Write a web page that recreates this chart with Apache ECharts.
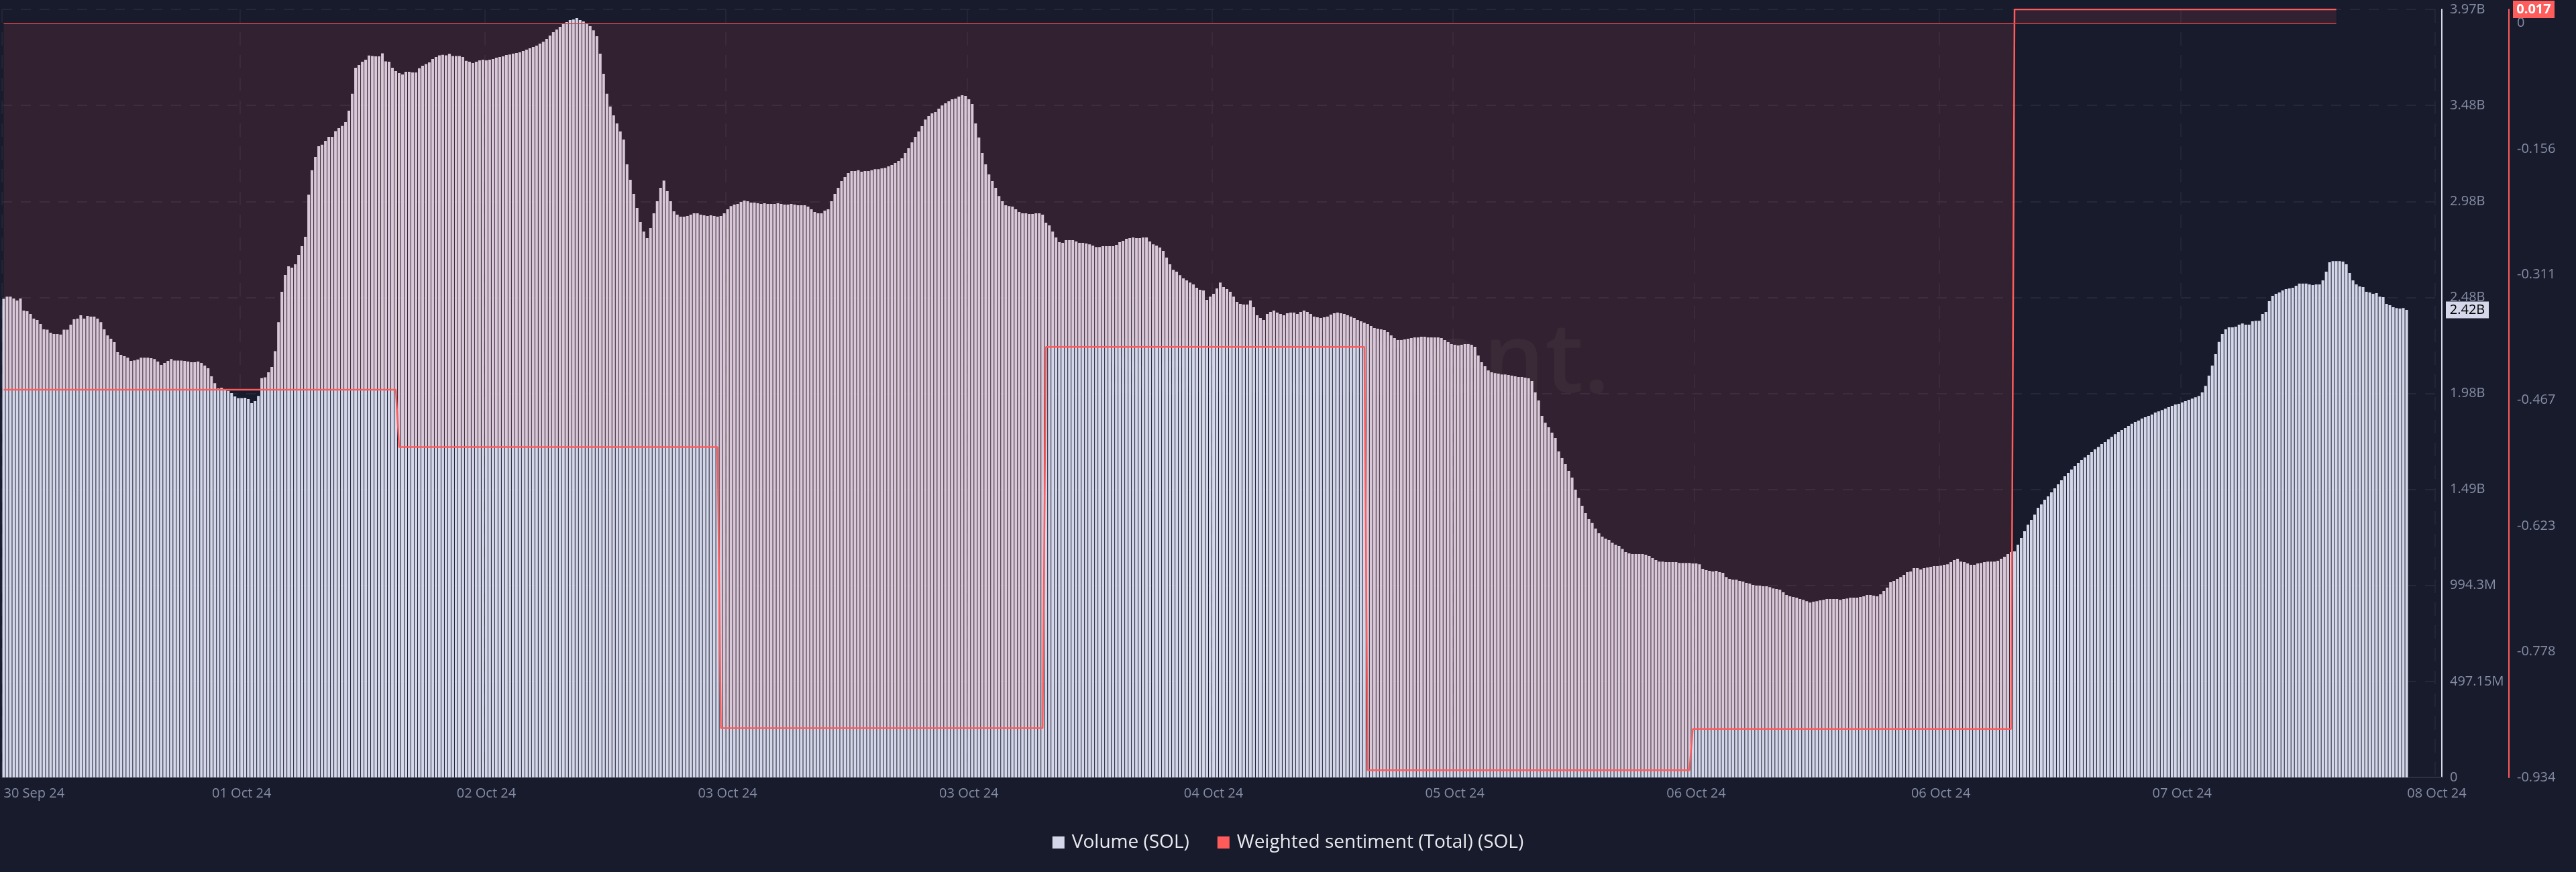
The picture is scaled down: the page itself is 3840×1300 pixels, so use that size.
<!DOCTYPE html>
<html><head><meta charset="utf-8">
<script src="https://cdn.jsdelivr.net/npm/echarts@6/dist/echarts.min.js"></script>
<style>html,body{margin:0;padding:0;background:#181b2b;}#c{width:3840px;height:1300px;}</style>
</head><body><div id="c"></div>
<script>
// ---- x categories: 15-minute buckets ----
const startTime = Date.UTC(2024, 8, 30, 18, 30);
const stepMinutes = 15;
const categoryCount = 728;
const categories = [];
for (let i = 0; i < categoryCount; i++) {
  categories.push(new Date(startTime + i * stepMinutes * 60000).toISOString().slice(0, 16));
}

// ---- Volume (SOL), millions ----
const volumeM = [
2478,2490,2490,2480,2470,2480,2418,2414,2400,2376,
2369,2348,2320,2319,2303,2296,2296,2293,2319,2319,
2345,2372,2376,2393,2376,2390,2386,2386,2376,2358,
2320,2289,2272,2254,2202,2188,2181,2174,2157,2160,
2164,2174,2174,2174,2171,2167,2154,2136,2147,2157,
2167,2159,2159,2159,2157,2154,2150,2150,2154,2147,
2133,2119,2077,2042,2015,2018,2005,2002,1990,1973,
1964,1964,1966,1959,1938,1949,1976,2068,2072,2098,
2126,2207,2358,2515,2602,2647,2640,2657,2706,2751,
2800,3018,3144,3213,3269,3276,3296,3317,3317,3347,
3362,3374,3394,3453,3540,3675,3689,3706,3717,3738,
3736,3734,3734,3750,3708,3706,3675,3658,3647,3640,
3654,3654,3651,3651,3672,3685,3694,3703,3720,3731,
3739,3742,3739,3747,3736,3736,3736,3731,3711,3706,
3699,3706,3713,3717,3713,3717,3720,3727,3731,3734,
3741,3744,3748,3751,3755,3762,3769,3776,3783,3790,
3800,3810,3824,3842,3859,3873,3887,3901,3911,3922,
3925,3932,3922,3915,3904,3890,3869,3838,3748,3644,
3540,3474,3428,3387,3345,3303,3175,3095,3022,2949,
2876,2827,2793,2845,2921,2984,3053,3091,3036,2984,
2932,2914,2904,2904,2907,2914,2921,2921,2914,2911,
2907,2911,2907,2904,2907,2921,2942,2959,2966,2970,
2980,2987,2984,2977,2977,2973,2970,2973,2970,2970,
2970,2973,2970,2966,2966,2970,2966,2963,2963,2963,
2956,2942,2928,2921,2921,2935,2942,2984,3022,3053,
3088,3109,3130,3140,3140,3144,3137,3140,3140,3144,
3150,3150,3154,3157,3164,3171,3182,3192,3206,3234,
3258,3289,3317,3345,3373,3407,3425,3439,3446,3463,
3480,3491,3501,3512,3515,3526,3533,3529,3512,3487,
3387,3314,3234,3175,3123,3088,3053,3011,2984,2963,
2959,2956,2942,2928,2921,2921,2918,2918,2921,2921,
2914,2873,2859,2827,2796,2772,2768,2782,2782,2782,
2775,2768,2768,2765,2761,2754,2747,2747,2751,2751,
2751,2751,2758,2772,2779,2789,2793,2796,2793,2793,
2796,2796,2775,2761,2754,2744,2727,2692,2657,2629,
2619,2601,2584,2574,2563,2553,2536,2525,2522,2473,
2490,2504,2532,2563,2539,2529,2515,2490,2463,2452,
2449,2449,2470,2435,2393,2379,2369,2400,2411,2418,
2407,2400,2393,2404,2407,2407,2400,2411,2418,2411,
2400,2386,2383,2379,2383,2386,2397,2404,2407,2404,
2400,2393,2386,2379,2369,2362,2355,2348,2338,2327,
2324,2320,2317,2306,2289,2275,2265,2265,2268,2272,
2275,2279,2279,2282,2282,2279,2279,2279,2279,2275,
2265,2254,2244,2240,2237,2240,2244,2244,2240,2230,
2185,2150,2129,2108,2098,2094,2091,2087,2087,2084,
2081,2077,2074,2074,2070,2067,2053,1994,1952,1872,
1837,1813,1785,1758,1688,1653,1622,1587,1553,1490,
1448,1407,1369,1337,1317,1289,1264,1247,1237,1230,
1216,1205,1198,1184,1167,1160,1157,1157,1157,1157,
1153,1146,1136,1125,1118,1118,1115,1115,1115,1115,
1111,1111,1111,1111,1108,1108,1104,1080,1073,1070,
1066,1070,1063,1059,1038,1028,1024,1024,1018,1014,
1007,1004,997,993,993,990,990,986,979,976,
972,959,945,938,934,931,924,920,913,906,
910,913,917,920,924,924,924,924,920,924,
927,931,931,931,934,938,945,945,941,938,
948,966,983,1011,1018,1028,1038,1049,1063,1066,
1084,1084,1077,1084,1087,1091,1094,1094,1097,1101,
1104,1115,1125,1132,1118,1115,1108,1101,1101,1108,
1111,1115,1118,1118,1118,1122,1132,1143,1157,1167,
1171,1205,1240,1275,1309,1334,1361,1396,1414,1438,
1455,1476,1497,1518,1539,1560,1577,1594,1612,1629,
1643,1657,1671,1685,1699,1712,1726,1737,1751,1764,
1778,1789,1799,1810,1820,1831,1841,1848,1858,1865,
1872,1879,1890,1896,1903,1910,1917,1924,1931,1935,
1942,1949,1956,1962,1969,1976,1994,2028,2081,2133,
2192,2255,2296,2320,2331,2331,2334,2345,2351,2345,
2345,2362,2365,2365,2400,2411,2466,2494,2504,2511,
2522,2529,2532,2536,2546,2557,2557,2557,2553,2550,
2553,2553,2574,2619,2668,2674,2674,2674,2671,2657,
2612,2574,2553,2543,2539,2515,2511,2504,2508,2490,
2487,2452,2445,2435,2431,2428,2431,2421
];

// ---- Weighted sentiment (Total) (SOL): daily values and how many 15-min buckets each covers ----
const sentimentValues = [-0.454, -0.525, -0.873, -0.401, -0.925, -0.874, 0.017];
const sentimentSegmentLengths = [118, 96, 97, 96, 97, 96, 97];

// ---- tick labels ----
const xTickIndices = [0, 71, 144, 216, 288, 361, 433, 505, 578, 650, 726];
const xTickLabels = ['30 Sep 24','01 Oct 24','02 Oct 24','03 Oct 24','03 Oct 24','04 Oct 24','05 Oct 24','06 Oct 24','06 Oct 24','07 Oct 24','08 Oct 24'];
const volumeTickLabels = ['0','497.15M','994.3M','1.49B','1.98B','2.48B','2.98B','3.48B','3.97B'];
const volumeInterval = 497.15e6;
const sentimentTickLabels = ['-0.934','-0.778','-0.623','-0.467','-0.311','-0.156','0'];
const sentimentMin = -0.934, sentimentMax = 0.017, sentimentInterval = 0.15567;

// ---- build series data ----
const volumeData = volumeM.map(v => v * 1e6);
const sentimentData = [];
sentimentValues.forEach((v, k) => { for (let j = 0; j < sentimentSegmentLengths[k]; j++) sentimentData.push(v); });

const FONT = '"Open Sans", "Noto Sans", sans-serif';
const LABEL_COLOR = '#858da5';
const BAR_COLOR = '#d4d7e9';
const RED = '#ff5b5b';

const chart = echarts.init(document.getElementById('c'), null, {renderer: 'canvas', width: 3840, height: 1300});
const option = {
  backgroundColor: '#181b2b',
  animation: false,
  textStyle: {fontFamily: FONT},
  grid: {left: 3, right: 200, top: 14, bottom: 141, containLabel: false},
  legend: {
    top: 1237, left: 'center', itemWidth: 18, itemHeight: 18, itemGap: 42, icon: 'rect',
    textStyle: {color: '#e9eaf0', fontSize: 28, fontFamily: FONT, padding: [0, 0, 0, 6]},
    data: [
      {name: 'Volume (SOL)', itemStyle: {color: BAR_COLOR}},
      {name: 'Weighted sentiment (Total) (SOL)', itemStyle: {color: RED}}
    ]
  },
  xAxis: {
    type: 'category', data: categories, boundaryGap: true,
    axisLine: {show: true, lineStyle: {color: '#2c3042', width: 2}},
    axisTick: {show: false},
    axisLabel: {
      color: LABEL_COLOR, fontSize: 20, margin: 14, fontFamily: FONT,
      alignMinLabel: 'left',
      interval: (i) => xTickIndices.indexOf(i) >= 0,
      formatter: (v, i) => { const k = xTickIndices.indexOf(i); return k >= 0 ? xTickLabels[k] : ''; }
    },
    splitLine: {show: true, interval: (i) => xTickIndices.indexOf(i) >= 0,
      lineStyle: {color: '#262a3c', type: [20, 14], width: 1.5}}
  },
  yAxis: [
    {
      type: 'value', position: 'right', min: 0, max: volumeInterval * 8, interval: volumeInterval,
      axisLine: {show: true, lineStyle: {color: '#d5d8ea', width: 2}},
      axisTick: {show: false},
      axisLabel: {color: LABEL_COLOR, fontSize: 20, margin: 12, fontFamily: FONT,
        formatter: (v) => { const k = Math.round(v / volumeInterval); return volumeTickLabels[k] || ''; }},
      splitLine: {show: true, lineStyle: {color: '#2a2e41', type: [15, 13], width: 1.5}}
    },
    {
      type: 'value', position: 'right', offset: 100, min: sentimentMin, max: sentimentMax, interval: sentimentInterval,
      axisLine: {show: true, lineStyle: {color: RED, width: 2}},
      axisTick: {show: false},
      splitLine: {show: false},
      axisLabel: {color: LABEL_COLOR, fontSize: 20, margin: 12, fontFamily: FONT, showMaxLabel: false,
        formatter: (v) => {
          const k = Math.round((v - sentimentMin) / sentimentInterval);
          if (Math.abs(v - (sentimentMin + k * sentimentInterval)) > 0.001) return '';
          return sentimentTickLabels[k] || '';
        }}
    }
  ],
  series: [
    {
      name: 'Volume (SOL)', type: 'bar', yAxisIndex: 0, data: volumeData,
      itemStyle: {color: BAR_COLOR}, barCategoryGap: '20%', z: 2, silent: true
    },
    {
      name: 'Weighted sentiment (Total) (SOL)', type: 'line', yAxisIndex: 1, data: sentimentData,
      symbol: 'none', z: 3, silent: true,
      lineStyle: {color: RED, width: 2.5}, itemStyle: {color: RED},
      areaStyle: {color: 'rgba(255,91,91,0.165)'},
      markLine: {
        silent: true, symbol: 'none', label: {show: false},
        lineStyle: {color: '#d9474d', width: 1.5, type: 'solid'},
        data: [[{coord: [0, 0]}, {coord: [sentimentData.length - 1, 0]}]]
      }
    }
  ]
};
chart.setOption(option);

// current-value badges on the axes
const lastVol = volumeData[volumeData.length - 1];
const lastSent = sentimentValues[sentimentValues.length - 1];
const yVol = chart.convertToPixel({yAxisIndex: 0}, lastVol);
const ySent = chart.convertToPixel({yAxisIndex: 1}, lastSent);
const volText = (Math.floor(lastVol / 1e7) / 100).toFixed(2) + 'B';
const sentText = lastSent.toFixed(3);
const gridRight = 3840 - 200;

chart.setOption({
  graphic: [
    {type: 'text', z: 0, x: 2400, y: 544, silent: true,
      style: {text: 'santiment.', fill: 'rgba(255,255,255,0.04)', font: '600 145px ' + FONT, align: 'right', verticalAlign: 'middle'}},
    {type: 'rect', z: 100, shape: {x: gridRight + 6, y: yVol - 12.5, width: 64, height: 25}, style: {fill: '#d5d8ea'}},
    {type: 'text', z: 101, x: gridRight + 38, y: yVol, style: {text: volText, fill: '#000', font: '20px ' + FONT, align: 'center', verticalAlign: 'middle'}},
    {type: 'rect', z: 100, shape: {x: gridRight + 106, y: ySent - 13, width: 62, height: 26}, style: {fill: '#ff5c5c'}},
    {type: 'text', z: 101, x: gridRight + 137, y: ySent, style: {text: sentText, fill: '#fff', font: 'bold 20px ' + FONT, align: 'center', verticalAlign: 'middle'}}
  ]
});
</script></body></html>
